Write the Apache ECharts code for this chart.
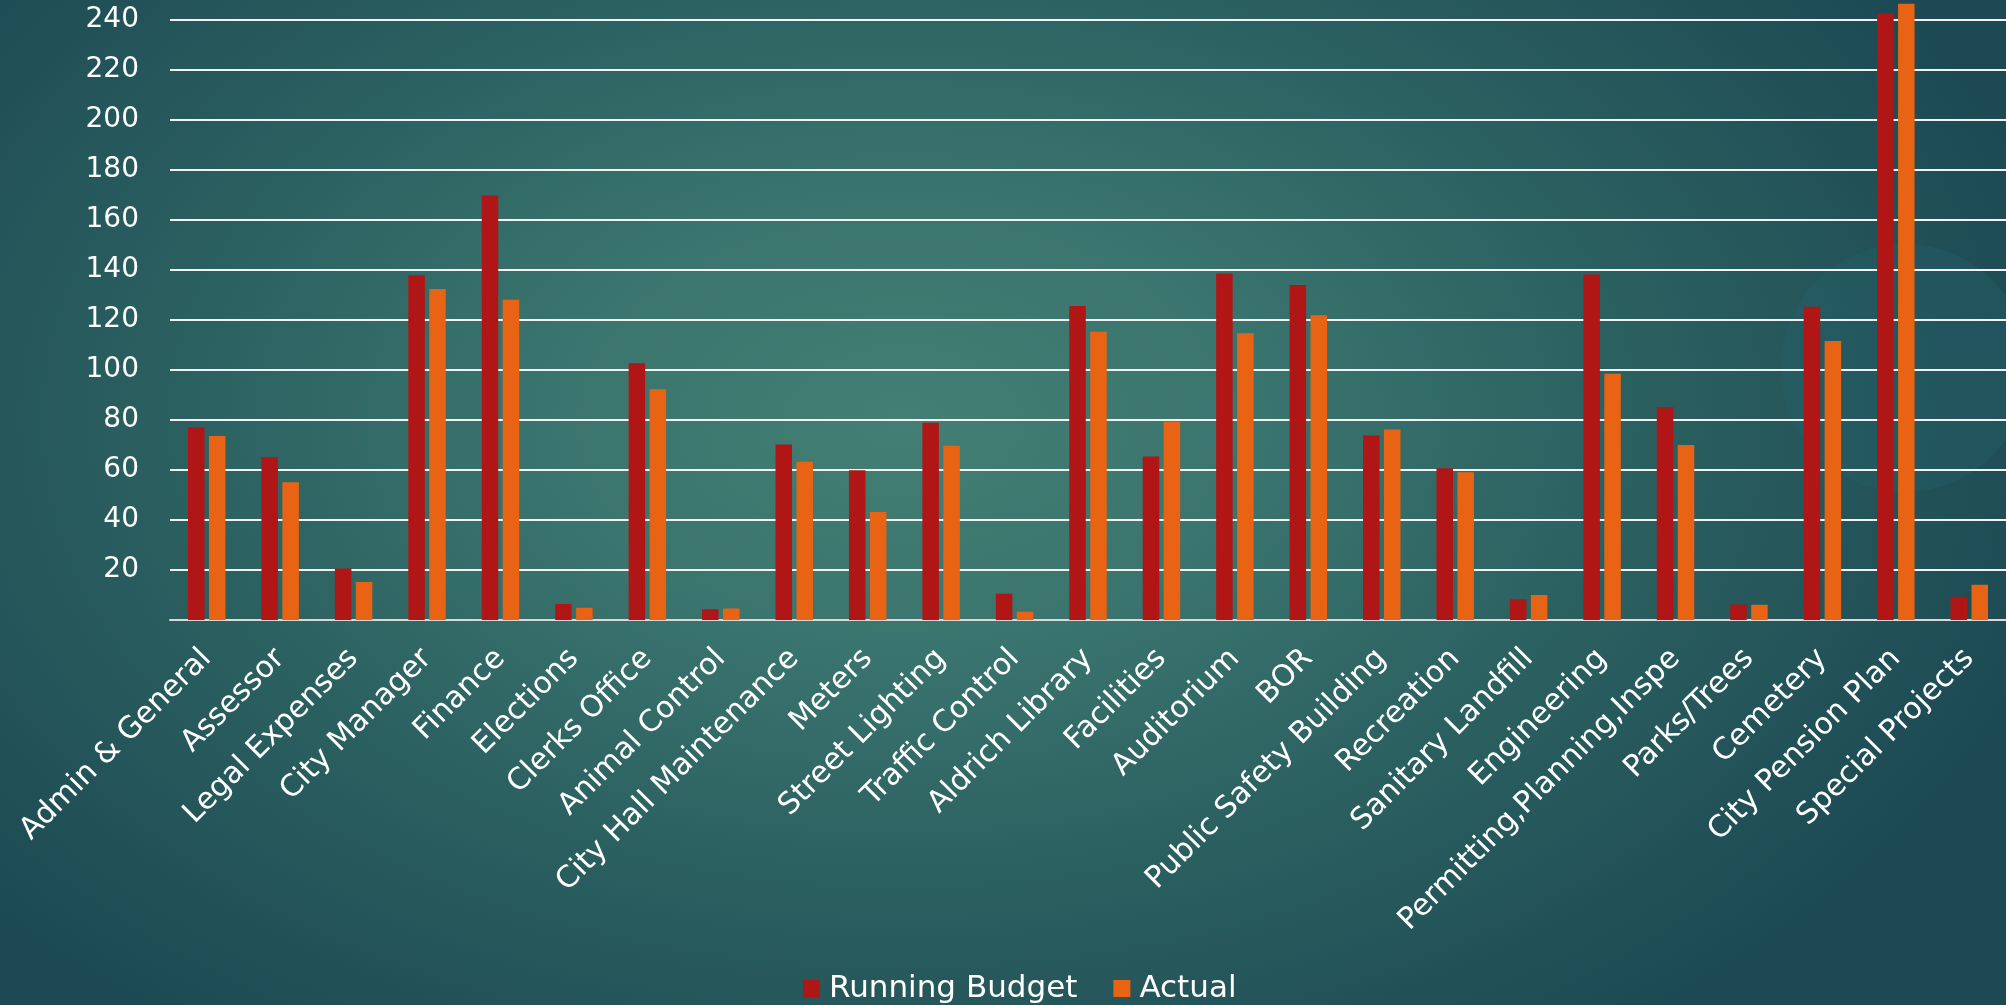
<!DOCTYPE html>
<html>
<head>
<meta charset="utf-8">
<script src="https://cdn.jsdelivr.net/npm/echarts@6/dist/echarts.min.js"></script>
<style>
html,body{margin:0;padding:0;width:2006px;height:1005px;overflow:hidden;}
#chart{width:2006px;height:1005px;
background: radial-gradient(ellipse 60% 76% at 45% 42%, #437f74 0%, #3a746e 30%, #2b6060 60%, #1c4953 100%);}
</style>
</head>
<body>
<div id="chart"></div>
<script>
const categories = ["Admin & General","Assessor","Legal Expenses","City Manager","Finance","Elections","Clerks Office","Animal Control","City Hall Maintenance","Meters","Street Lighting","Traffic Control","Aldrich Library","Facilities","Auditorium","BOR","Public Safety Building","Recreation","Sanitary Landfill","Engineering","Permitting,Planning,Inspe","Parks/Trees","Cemetery","City Pension Plan","Special Projects"];
const runningBudget = [77.1,65.1,20.6,137.9,169.8,6.4,102.7,4.3,70.2,59.9,78.9,10.5,125.6,65.4,138.6,134.0,73.8,60.7,8.3,138.2,85.2,6.2,125.3,242.6,9.3];
const actual = [73.6,55.1,15.2,132.4,128.1,4.9,92.3,4.6,63.3,43.2,69.7,3.3,115.3,79.3,114.7,121.9,76.2,59.1,10.0,98.5,70.0,6.1,111.6,246.5,14.1];
const seriesNames = ["Running Budget","Actual"];

const FONT = "DejaVu Sans";
const chart = echarts.init(document.getElementById('chart'), null, {renderer:'canvas'});
chart.setOption({
  backgroundColor: 'transparent',
  animation: false,
  graphic: [{
    type: 'circle', z: -10, silent: true,
    shape: {cx: 1905, cy: 368, r: 124},
    style: {fill: 'rgba(40,100,112,0.28)'}
  }],
  legend: {
    data: seriesNames,
    left: 798, top: 968,
    icon: 'rect', itemWidth: 17, itemHeight: 17, itemGap: 36,
    textStyle: {color: '#ffffff', fontFamily: FONT, fontSize: 31, padding:[0,0,0,4]}
  },
  grid: {left: 170, top: 20, width: 1842, height: 600, containLabel: false},
  xAxis: {
    type: 'category', data: categories,
    axisTick: {show: false},
    axisLine: {show: true, lineStyle: {color: '#d9d9d9', width: 2}},
    axisLabel: {interval: 0, rotate: 45, margin: 34, color: '#ffffff', fontFamily: FONT, fontSize: 30}
  },
  yAxis: {
    type: 'value', min: 0, max: 240, interval: 20,
    axisLine: {show: false}, axisTick: {show: false},
    axisLabel: {showMinLabel: false, margin: 31, color: '#ffffff', fontFamily: FONT, fontSize: 28},
    splitLine: {lineStyle: {color: '#f2f2f2', width: 2}}
  },
  series: [
    {name: seriesNames[0], type: 'bar', data: runningBudget, barWidth: 16.5, barGap: '27%', clip: false,
     itemStyle: {color: '#b01616'}},
    {name: seriesNames[1], type: 'bar', data: actual, barWidth: 16.5, clip: false,
     itemStyle: {color: '#e86414'}}
  ]
});
</script>
</body>
</html>
